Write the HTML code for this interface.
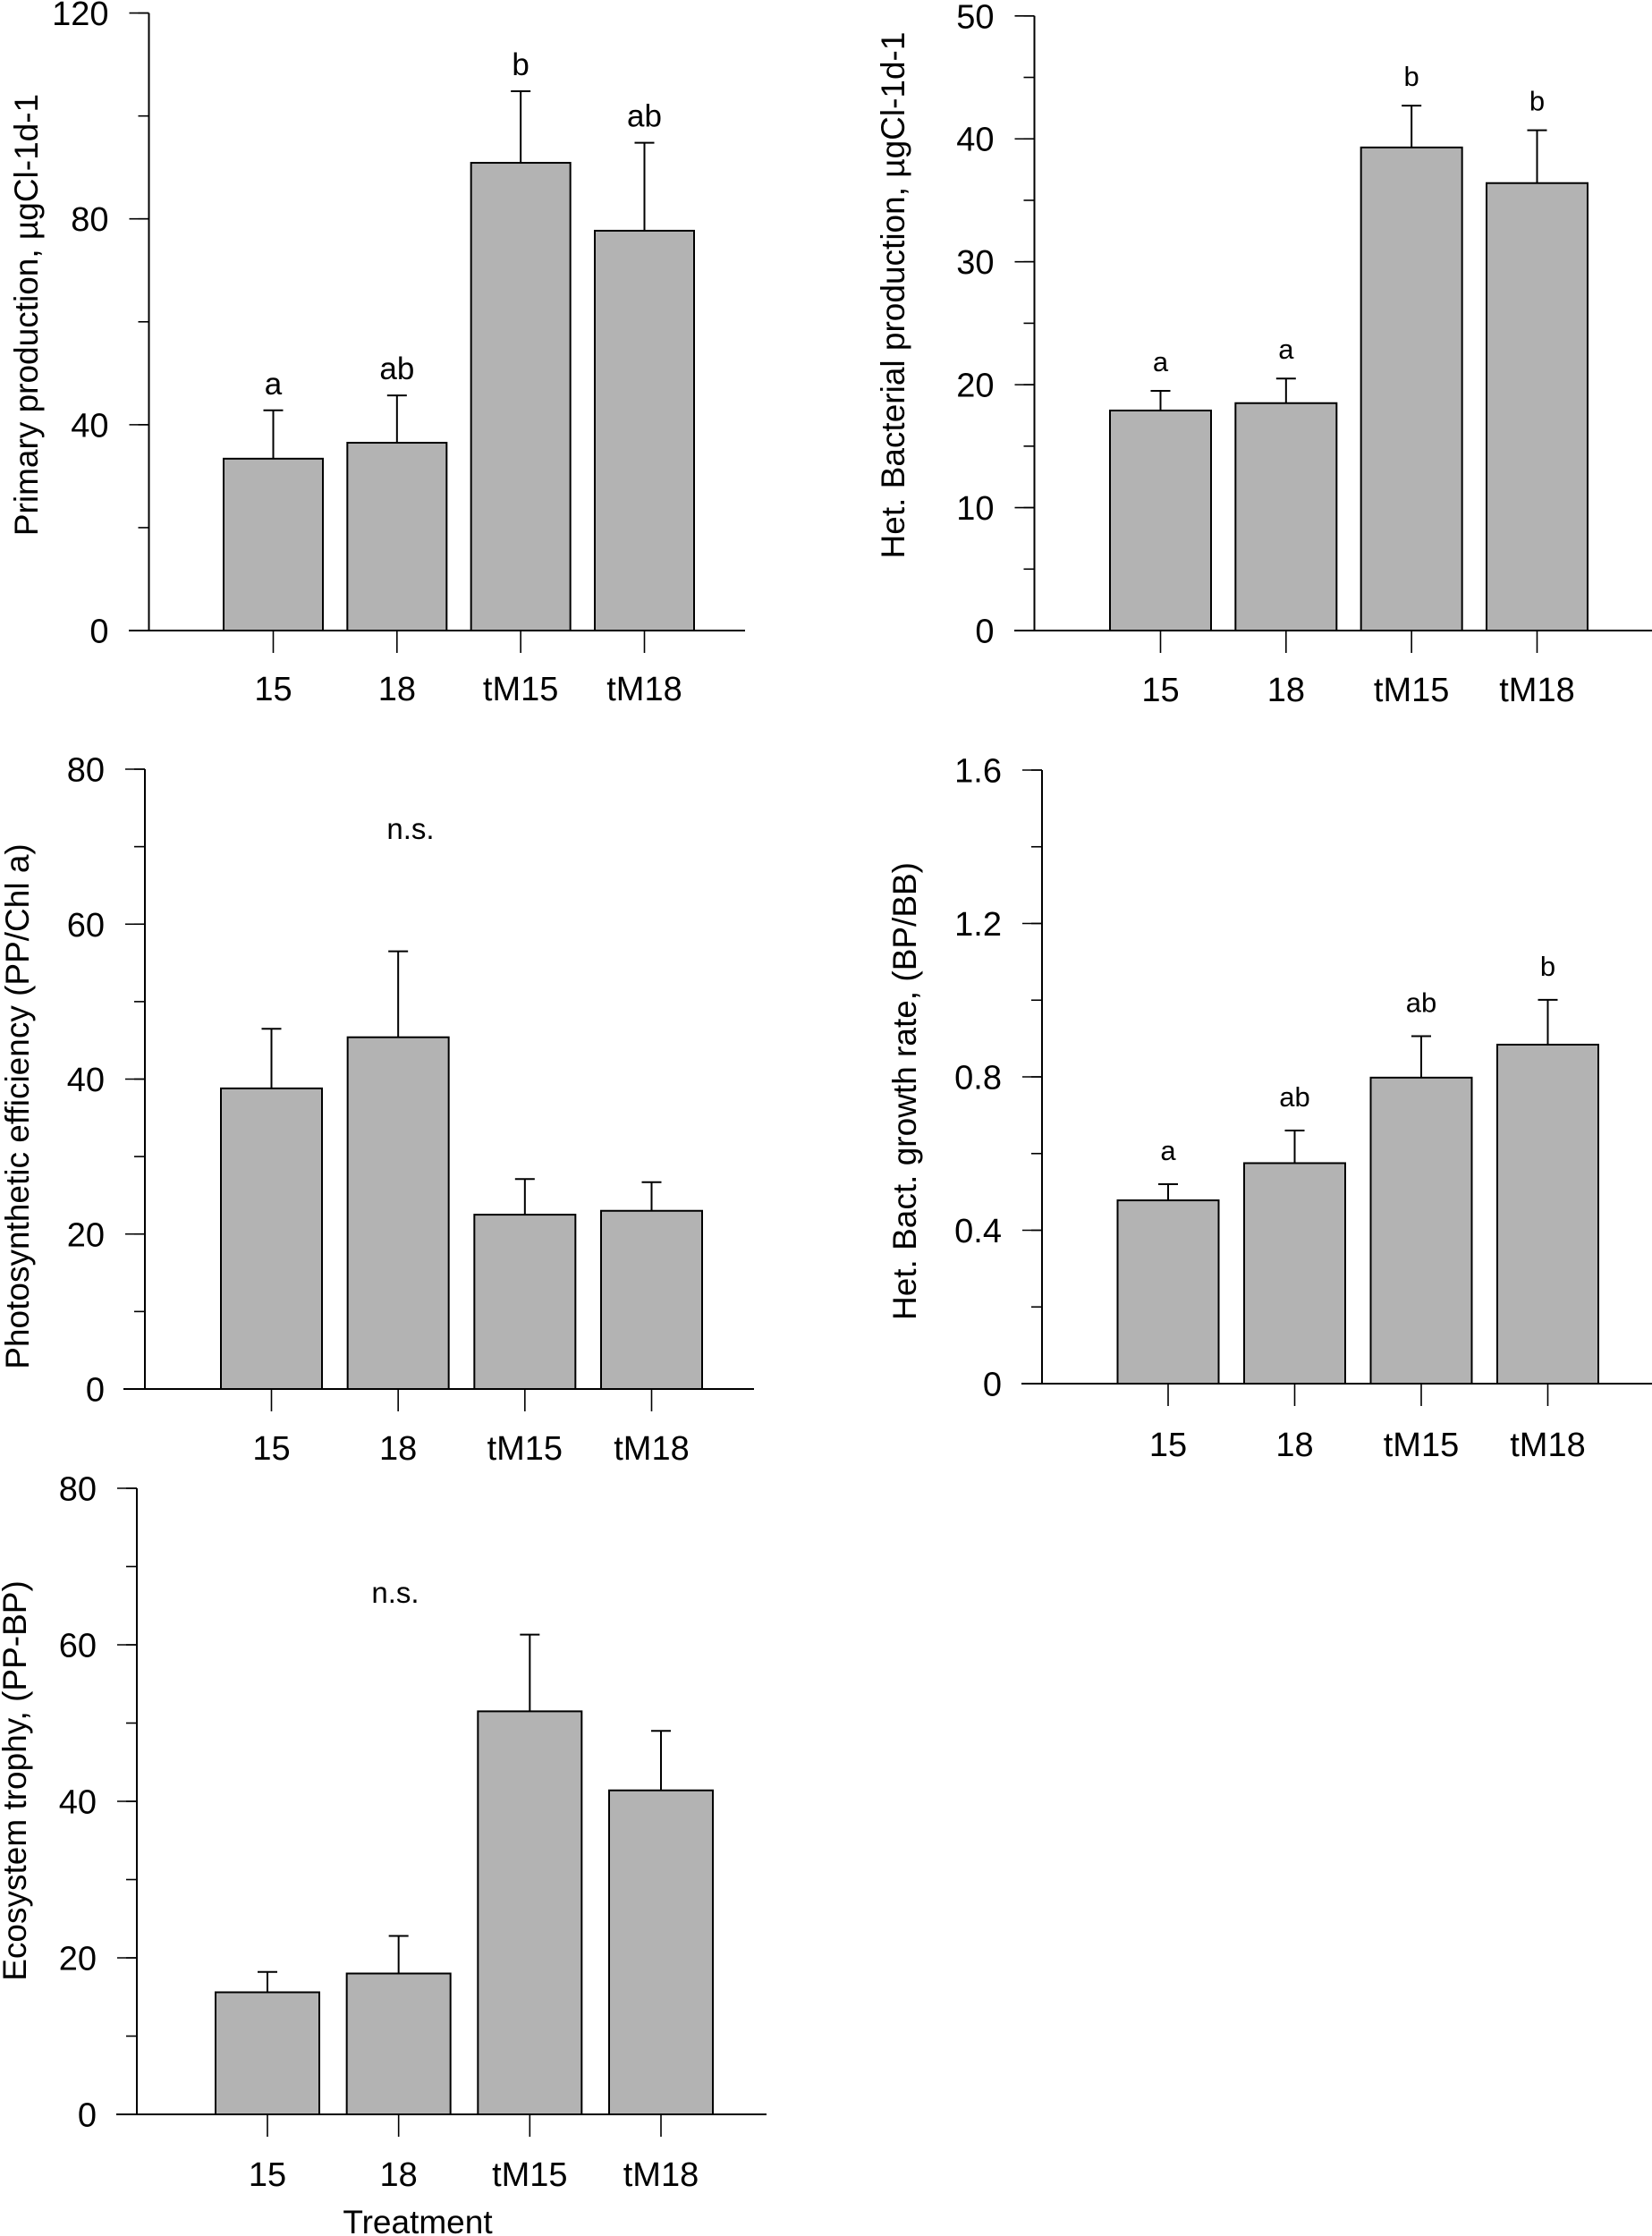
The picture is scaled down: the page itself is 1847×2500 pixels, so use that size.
<!DOCTYPE html>
<html><head><meta charset="utf-8">
<style>
html,body{margin:0;padding:0;background:#fff;}
svg{display:block;font-family:"Liberation Sans",Arial,sans-serif;}
</style></head>
<body>
<svg id="chart" width="1847" height="2500" viewBox="0 0 1847 2500" xmlns="http://www.w3.org/2000/svg"></svg>
<script>
const categories = ["15", "18", "tM15", "tM18"];
// Panel 1: Primary production
const ppMeans = [33.4, 36.5, 90.9, 77.7];
const ppErr = [9.4, 9.2, 13.9, 17.1];
const ppLetters = ["a", "ab", "b", "ab"];
const ppTicks = [0, 40, 80, 120];
// Panel 2: Het. bacterial production
const bpMeans = [17.9, 18.5, 39.3, 36.4];
const bpErr = [1.6, 2.0, 3.4, 4.3];
const bpLetters = ["a", "a", "b", "b"];
const bpTicks = [0, 10, 20, 30, 40, 50];
// Panel 3: Photosynthetic efficiency
const peMeans = [38.8, 45.4, 22.5, 23.0];
const peErr = [7.7, 11.1, 4.6, 3.7];
const peTicks = [0, 20, 40, 60, 80];
// Panel 4: growth rate
const grMeans = [0.478, 0.575, 0.798, 0.884];
const grErr = [0.042, 0.085, 0.108, 0.117];
const grLetters = ["a", "ab", "ab", "b"];
const grTicks = [0, 0.4, 0.8, 1.2, 1.6];
// Panel 5: Ecosystem trophy
const etMeans = [15.6, 18.0, 51.5, 41.4];
const etErr = [2.6, 4.8, 9.8, 7.6];
const etTicks = [0, 20, 40, 60, 80];

const svg = document.getElementById('chart');
const NS = 'http://www.w3.org/2000/svg';
function mk(tag, attrs, parent){const e=document.createElementNS(NS,tag);for(const k in attrs)e.setAttribute(k,attrs[k]);(parent||svg).appendChild(e);return e;}

function panel(cfg){
  const g = mk('g',{});
  
  
  const y = v => cfg.y0 - (v - cfg.min)/(cfg.max - cfg.min)*(cfg.y0 - cfg.yTop);
  const ya = mk('line',{x1:cfg.ax,y1:cfg.yTop,x2:cfg.ax,y2:cfg.y0,stroke:'#000','stroke-width':2},g);
  
  
  const xa = mk('line',{x1:cfg.axL,y1:cfg.y0,x2:cfg.axR,y2:cfg.y0,stroke:'#000','stroke-width':2},g);
  
  
  for(let v=cfg.min; v<=cfg.max+1e-9; v+=cfg.minor){
    mk('line',{x1:cfg.ax-12,y1:y(v),x2:cfg.ax,y2:y(v),stroke:'#000','stroke-width':1.6},g);
  }
  cfg.ticks.forEach(t=>{
    mk('line',{x1:cfg.ax-22,y1:y(t),x2:cfg.ax,y2:y(t),stroke:'#000','stroke-width':1.6},g);
    const tx = mk('text',{x:cfg.ax-45,y:y(t)+13.5,'text-anchor':'end','font-size':38},g);
    tx.textContent = String(t);
    
    
  });
  const step = (cfg.b4L - cfg.b1L)/3;
  cfg.means.forEach((m,i)=>{
    const x = cfg.b1L + i*step, cx = x + cfg.bw/2;
    const r = mk('rect',{x:x,y:y(m),width:cfg.bw,height:cfg.y0-y(m),fill:'#b3b3b3',stroke:'#000','stroke-width':2},g);
    
    
    const et = y(m + cfg.err[i]);
    const el = mk('path',{d:`M${cx},${y(m)}V${et}M${cx-11},${et}H${cx+11}`,stroke:'#000','stroke-width':2,fill:'none'},g);
    
    
    mk('line',{x1:cx,y1:cfg.y0,x2:cx,y2:cfg.y0+cfg.tickLen,stroke:'#000','stroke-width':1.6},g);
    const lb = mk('text',{x:cx,y:cfg.labY,'text-anchor':'middle','font-size':38},g);
    lb.textContent = categories[i];
    
    
    if(cfg.letters){
      const lt = mk('text',{x:cx,y:et-cfg.letOff,'text-anchor':'middle','font-size':cfg.letSize},g);
      lt.textContent = cfg.letters[i];
      
      
    }
  });
  const tt = mk('text',{x:0,y:0,'text-anchor':'middle','font-size':37,transform:`translate(${cfg.titleX},${cfg.titleY}) rotate(-90)`},g);
  tt.textContent = cfg.title;
  
  
  if(cfg.ns){
    const n = mk('text',{x:cfg.ns[0],y:cfg.ns[1],'text-anchor':'middle','font-size':33},g);
    n.textContent='n.s.';
    
    
  }
}

panel({name:'primary-production-panel',ax:166.5,axL:144,axR:833,yTop:14.6,y0:705,min:0,max:120,minor:20,ticks:ppTicks,
  means:ppMeans,err:ppErr,letters:ppLetters,letOff:18,letSize:35,b1L:250,b4L:665,bw:111,labY:783,tickLen:25,
  title:'Primary production, µgCl-1d-1',titleX:42,titleY:352});
panel({name:'bacterial-production-panel',ax:1156.5,axL:1134,axR:1847,yTop:17.8,y0:705,min:0,max:50,minor:5,ticks:bpTicks,
  means:bpMeans,err:bpErr,letters:bpLetters,letOff:22,letSize:31,b1L:1241,b4L:1662,bw:113,labY:784,tickLen:25,
  title:'Het. Bacterial production, µgCl-1d-1',titleX:1011,titleY:330});
panel({name:'photosynthetic-efficiency-panel',ax:162,axL:138,axR:843,yTop:860,y0:1553,min:0,max:80,minor:10,ticks:peTicks,
  means:peMeans,err:peErr,b1L:247,b4L:672,bw:113,labY:1632,tickLen:25,
  title:'Photosynthetic efficiency (PP/Chl a)',titleX:32,titleY:1237,ns:[459,938]});
panel({name:'growth-rate-panel',ax:1165,axL:1142,axR:1847,yTop:861,y0:1547,min:0,max:1.6,minor:0.2,ticks:grTicks,
  means:grMeans,err:grErr,letters:grLetters,letOff:27,letSize:31,b1L:1249.5,b4L:1674,bw:113,labY:1628,tickLen:25,
  title:'Het. Bact. growth rate, (BP/BB)',titleX:1024,titleY:1220});
panel({name:'ecosystem-trophy-panel',ax:153,axL:130,axR:857,yTop:1664,y0:2364,min:0,max:80,minor:10,ticks:etTicks,
  means:etMeans,err:etErr,b1L:241,b4L:681,bw:116,labY:2444,tickLen:25,
  title:'Ecosystem trophy, (PP-BP)',titleX:29,titleY:1991,ns:[442,1792]});

const xt = mk('text',{x:467,y:2497,'text-anchor':'middle','font-size':37});
xt.textContent='Treatment';


</script>
</body></html>
